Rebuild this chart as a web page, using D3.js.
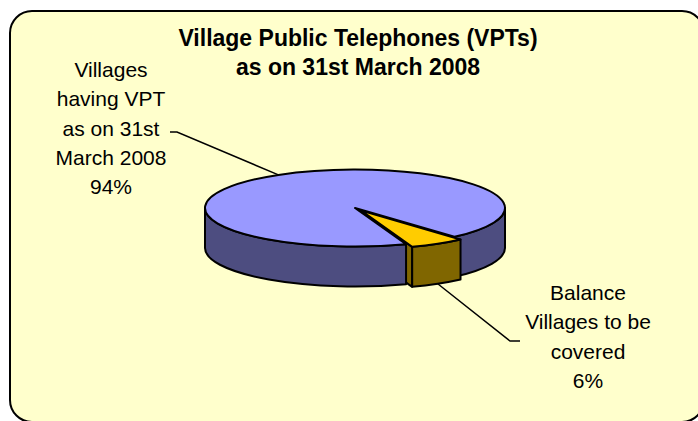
<!DOCTYPE html>
<html>
<head>
<meta charset="utf-8">
<script src="https://cdn.jsdelivr.net/npm/d3@7"></script>
<style>
  body { margin: 0; background: #fff; }
  svg { display: block; font-family: "Liberation Sans", Arial, sans-serif; }
</style>
</head>
<body>
<div id="chart"></div>
<script>
const titleLines = ["Village Public Telephones (VPTs)", "as on 31st March 2008"];
const categories = ["Villages having VPT as on 31st March 2008", "Balance Villages to be covered"];
const shares = [94, 6];
const labelLines = [
  ["Villages", "having VPT", "as on 31st", "March 2008"],
  ["Balance", "Villages to be", "covered"]
];

const width = 698, height = 421;
const cx = 355, cy = 208, rx = 150, ry = 38.5, depth = 40;
const explode = [0, 0.08];
const startDeg = 160.1;

const topColor = d3.scaleOrdinal().domain(categories).range(["#9999ff", "#ffcc00"]);
const sideColor = d3.scaleOrdinal().domain(categories).range(["#4d4d80", "#806600"]);

const svg = d3.select("#chart").append("svg")
  .attr("width", width)
  .attr("height", height);

// chart area frame
svg.append("rect")
  .attr("x", 10).attr("y", 11)
  .attr("width", 694).attr("height", 411)
  .attr("rx", 22)
  .attr("fill", "#ffffcc")
  .attr("stroke", "#000")
  .attr("stroke-width", 2);

svg.append("g").selectAll("text")
  .data(titleLines)
  .join("text")
  .attr("x", 358)
  .attr("y", (d, i) => 46 + i * 29)
  .attr("text-anchor", "middle")
  .attr("font-size", 23)
  .attr("font-weight", "bold")
  .text(d => d);

// pie angles (d3 measures from 12 o'clock, clockwise)
const start = startDeg * Math.PI / 180;
const pie = d3.pie().sort(null).startAngle(start).endAngle(start + 2 * Math.PI);
const slices = pie(shares).map((d, i) => {
  const a0 = d.startAngle - Math.PI / 2, a1 = d.endAngle - Math.PI / 2;
  const mid = (a0 + a1) / 2;
  return Object.assign({}, d, {
    i, name: categories[i], a0, a1, mid,
    ox: explode[i] * rx * Math.cos(mid),
    oy: explode[i] * ry * Math.sin(mid)
  });
});

function pt(s, a, z) {
  return [cx + s.ox + rx * Math.cos(a), cy + s.oy + ry * Math.sin(a) + z];
}

function frontSegments(a0, a1) {
  const segs = [];
  const T = 2 * Math.PI;
  for (let k = Math.floor(a0 / T) - 1; k <= Math.ceil(a1 / T); k++) {
    const lo = Math.max(a0, T * k), hi = Math.min(a1, T * k + Math.PI);
    if (hi > lo) segs.push([lo, hi]);
  }
  return segs;
}

function wallPath(s, b0, b1) {
  const p0 = pt(s, b0, 0), p1 = pt(s, b1, 0), q1 = pt(s, b1, depth), q0 = pt(s, b0, depth);
  const large = (b1 - b0) > Math.PI ? 1 : 0;
  return `M${p0}A${rx},${ry} 0 ${large} 1 ${p1}L${q1}A${rx},${ry} 0 ${large} 0 ${q0}Z`;
}

function facePath(s, a) {
  const c0 = [cx + s.ox, cy + s.oy], c1 = [cx + s.ox, cy + s.oy + depth];
  return `M${c0}L${pt(s, a, 0)}L${pt(s, a, depth)}L${c1}Z`;
}

const pieG = svg.append("g")
  .attr("stroke", "#000")
  .attr("stroke-width", 2)
  .attr("stroke-linejoin", "round");

// radial faces that face the viewer
const faces = [];
slices.forEach(s => {
  if (Math.cos(s.a0) < 0) faces.push({ s, a: s.a0 });
  if (Math.cos(s.a1) > 0) faces.push({ s, a: s.a1 });
});
pieG.selectAll(".face")
  .data(faces)
  .join("path")
  .attr("class", "face")
  .attr("fill", d => sideColor(d.s.name))
  .attr("d", d => facePath(d.s, d.a));

// outer side walls
const walls = [];
slices.forEach(s => frontSegments(s.a0, s.a1).forEach(g => walls.push({ s, b0: g[0], b1: g[1] })));
pieG.selectAll(".wall")
  .data(walls)
  .join("path")
  .attr("class", "wall")
  .attr("fill", d => sideColor(d.s.name))
  .attr("d", d => wallPath(d.s, d.b0, d.b1));

// tops: circular arcs squashed into the ellipse
const arc = d3.arc().innerRadius(0).outerRadius(rx);
pieG.selectAll(".top")
  .data(slices)
  .join("path")
  .attr("class", "top")
  .attr("transform", d => `translate(${cx + d.ox},${cy + d.oy}) scale(1,${ry / rx})`)
  .attr("vector-effect", "non-scaling-stroke")
  .attr("fill", d => topColor(d.name))
  .attr("d", arc);

// labels with leader lines
const labelPos = [
  { x: 111, y: 77, elbow: [177, 132], end: [170, 132], z: 0 },
  { x: 588, y: 300, elbow: [510, 341], end: [520, 341], z: depth }
];

slices.forEach((s, i) => {
  const lp = labelPos[i];
  const anchor = pt(s, s.mid, lp.z);
  svg.append("path")
    .attr("fill", "none")
    .attr("stroke", "#000")
    .attr("stroke-width", 1.5)
    .attr("d", d3.line()([anchor, lp.elbow, lp.end]));

  const lines = labelLines[i].concat([`${s.value}%`]);
  svg.append("g").selectAll("text")
    .data(lines)
    .join("text")
    .attr("x", lp.x)
    .attr("y", (d, j) => lp.y + j * 29.3)
    .attr("text-anchor", "middle")
    .attr("font-size", 21)
    .attr("fill", "#000")
    .text(d => d);
});
</script>
</body>
</html>
